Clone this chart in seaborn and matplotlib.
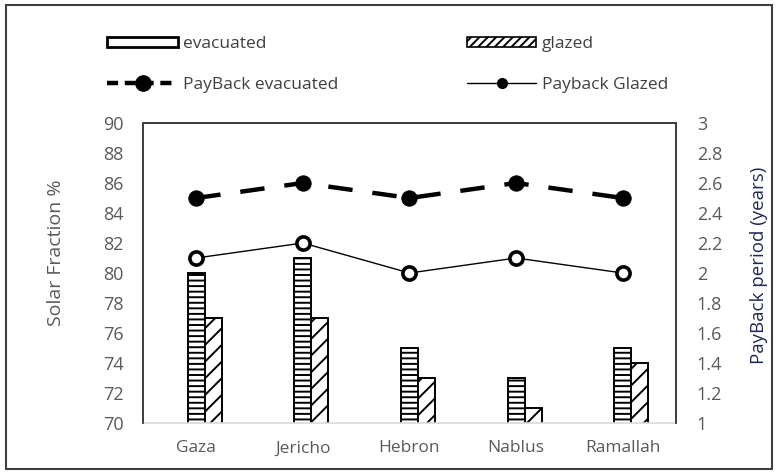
import matplotlib
matplotlib.use("Agg")
import matplotlib.pyplot as plt
from matplotlib.patches import Rectangle, Patch
from matplotlib.lines import Line2D
import numpy as np
import pandas as pd
import seaborn as sns

# ---- data ----
cities = ["Gaza", "Jericho", "Hebron", "Nablus", "Ramallah"]
evacuated = [80, 81, 75, 73, 75]
glazed = [77, 77, 73, 71, 74]
payback_evacuated = [2.5, 2.6, 2.5, 2.6, 2.5]
payback_glazed = [2.1, 2.2, 2.0, 2.1, 2.0]
left_ticks = [70, 72, 74, 76, 78, 80, 82, 84, 86, 88, 90]
right_ticks = [1, 1.2, 1.4, 1.6, 1.8, 2, 2.2, 2.4, 2.6, 2.8, 3]
right_tick_labels = ["1", "1.2", "1.4", "1.6", "1.8", "2", "2.2", "2.4", "2.6", "2.8", "3"]

sns.set_style("white")
plt.rcParams["font.family"] = ["Open Sans", "DejaVu Sans"]
plt.rcParams["hatch.linewidth"] = 1.4

W, H = 779, 474
fig = plt.figure(figsize=(W / 100, H / 100), dpi=100)
ax = fig.add_axes([143 / W, 1 - 423 / H, 533 / W, 300 / H])

# bars: a hidden spacer level makes evacuated centred on the category, glazed to its right
df = pd.DataFrame({
    "city": cities * 3,
    "type": ["_spacer"] * 5 + ["evacuated"] * 5 + ["glazed"] * 5,
    "value": [np.nan] * 5 + evacuated + glazed,
})
sns.barplot(data=df, x="city", y="value", hue="type",
            hue_order=["_spacer", "evacuated", "glazed"], order=cities,
            width=0.48, dodge=True, ax=ax, legend=False,
            palette=["white", "white", "white"], edgecolor="black",
            linewidth=1.4, saturation=1, err_kws={"linewidth": 0})
for p in ax.patches:
    if np.isnan(p.get_height()) or p.get_height() == 0:
        continue
    cx = p.get_x() + p.get_width() / 2
    off = cx - round(cx)
    p.set_hatch("---" if abs(off) < 0.05 else "//")

TICK = "#595959"
ax.set_ylim(70, 90)
ax.set_yticks(left_ticks)
ax.set_xlim(-0.5, 4.5)
ax.set_xlabel("")
ax.set_ylabel("Solar Fraction %", fontsize=14, color=TICK)
ax.yaxis.set_label_coords(-0.146, 0.567)
ax.tick_params(axis="y", length=0, pad=14, labelsize=13, labelcolor=TICK)
ax.tick_params(axis="x", length=0, pad=12.5, labelsize=12.5, labelcolor=TICK)

for s in ["left", "top", "right"]:
    ax.spines[s].set_color("#404040")
    ax.spines[s].set_linewidth(1.3)
ax.spines["bottom"].set_color("#d9d9d9")
ax.spines["bottom"].set_linewidth(1.2)

# secondary axis lines
ax2 = ax.twinx()
xpos = np.arange(len(cities))
sns.lineplot(x=xpos, y=payback_evacuated, ax=ax2, color="black", linewidth=3.2,
             marker="o", markersize=11, markerfacecolor="black",
             markeredgecolor="black")
ax2.lines[-1].set_dashes([5.5, 4.5])
sns.lineplot(x=xpos, y=payback_glazed, ax=ax2, color="black", linewidth=1.0,
             marker="o", markersize=9.5, markerfacecolor="white",
             markeredgecolor="black", markeredgewidth=2.6)
ax2.set_ylim(1, 3)
ax2.set_yticks(right_ticks)
ax2.set_yticklabels(right_tick_labels)
ax2.tick_params(axis="y", length=0, pad=15, labelsize=13, labelcolor=TICK)
ax2.set_ylabel("PayBack period (years)", fontsize=13.5, color="#1f2a4f")
ax2.yaxis.set_label_coords(1.139, 0.527)
for s in ["left", "top", "right"]:
    ax2.spines[s].set_color("#404040")
    ax2.spines[s].set_linewidth(1.3)
ax2.spines["bottom"].set_visible(False)
ax2.set_xlim(-0.5, 4.5)

# legend (two columns placed separately)
h_evac = Patch(facecolor="white", edgecolor="black", linewidth=2.0, label="evacuated")
h_pbe = Line2D([], [], color="black", linewidth=3.2, dashes=[2.5, 1.5], marker="o",
               markersize=11, markevery=[1], label="PayBack evacuated")
h_gl = Patch(facecolor="white", edgecolor="black", hatch="////", linewidth=1.2, label="glazed")
h_pbg = Line2D([], [], color="black", linewidth=1.0, marker="o", markersize=7,
               label="Payback Glazed")
common = dict(loc="upper left", frameon=False, fontsize=12.5, labelcolor="#404040",
              handleheight=0.55, handletextpad=0.3, labelspacing=1.45,
              borderpad=0, borderaxespad=0)
fig.legend(handles=[h_evac, h_pbe], bbox_to_anchor=(107 / W, 1 - 36 / H),
           handlelength=4.1, **common)
fig.legend(handles=[h_gl, h_pbg], bbox_to_anchor=(467 / W, 1 - 36 / H),
           handlelength=4.0, **common)

# outer border
fig.patches.append(Rectangle((6 / W, 5 / H), (772 - 6) / W, (469 - 5) / H,
                             transform=fig.transFigure, fill=False,
                             edgecolor="#404040", linewidth=1.5))

fig.savefig("out.png", dpi=100)
